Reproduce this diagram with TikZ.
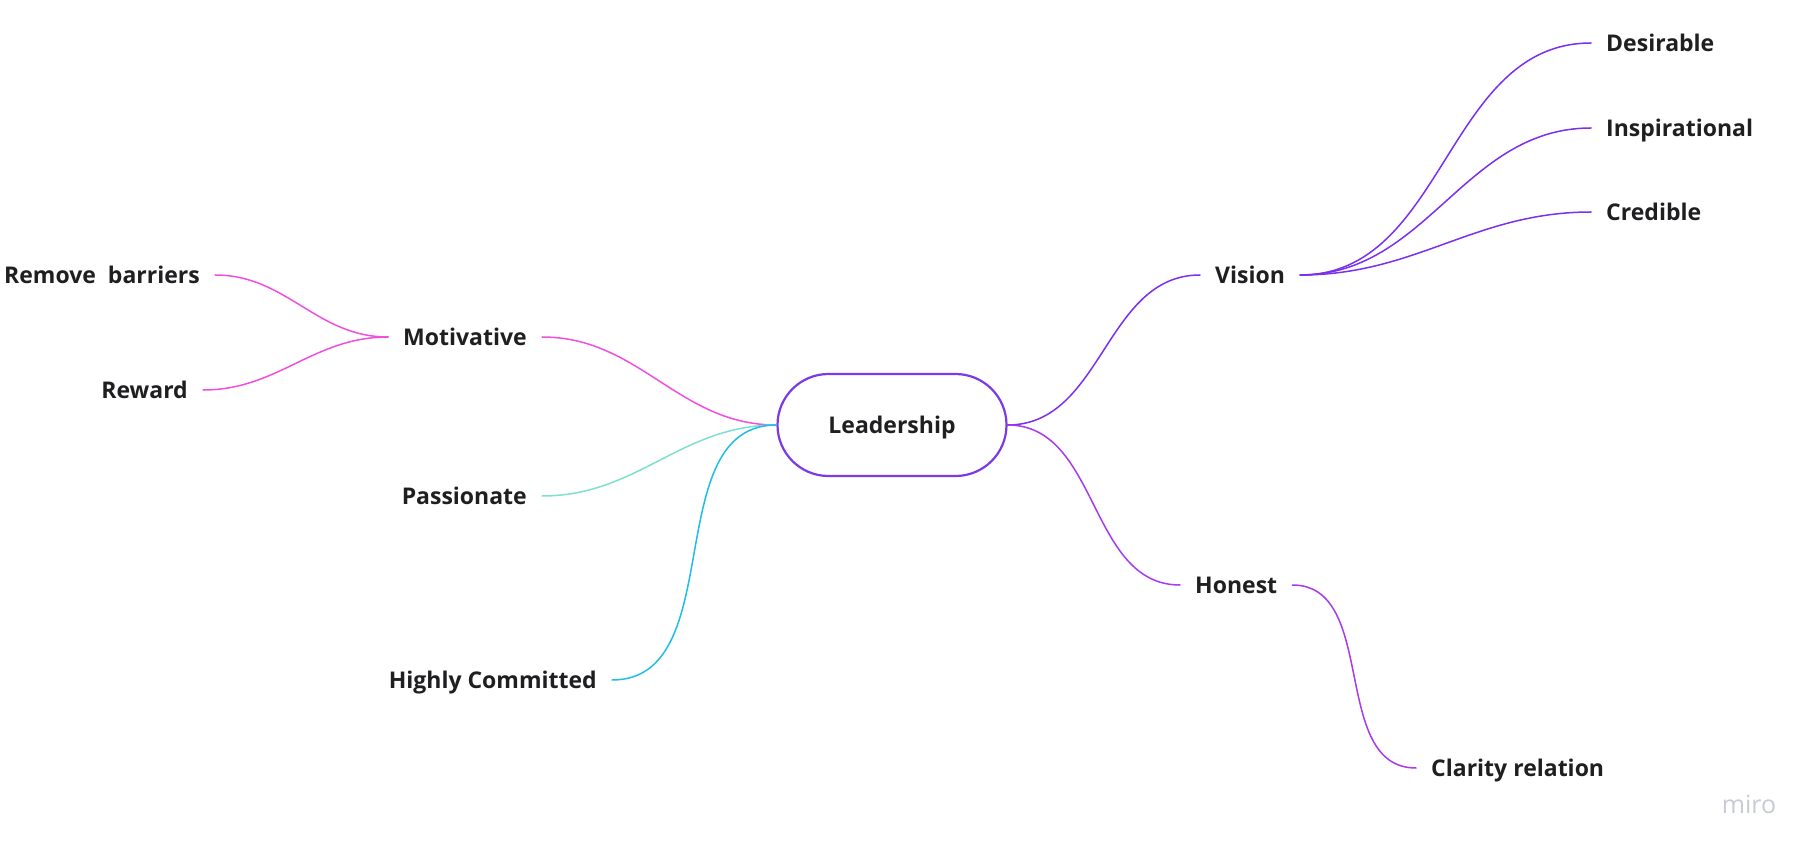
\documentclass[tikz,border=0pt]{standalone}
\usepackage{fontspec}
\setmainfont{Open Sans}
\definecolor{inkdark}{RGB}{31,31,33}
\definecolor{mpink}{RGB}{240,80,222}
\definecolor{mteal}{RGB}{126,224,207}
\definecolor{mcyan}{RGB}{30,190,232}
\definecolor{mviolet}{RGB}{122,48,238}
\definecolor{mpurple}{RGB}{168,58,240}
\definecolor{mborder}{RGB}{123,58,228}
\definecolor{mlogo}{RGB}{200,202,214}
\tikzset{
    leaf/.style={inner xsep=15pt, inner ysep=2pt, text height=16.5pt, text depth=0pt,
                 font=\fontsize{23}{27}\selectfont\bfseries, text=inkdark},
    link/.style={line width=1.5pt, line cap=round},
}
\begin{document}
\begin{tikzpicture}[x=1pt, y=-1pt]
    \useasboundingbox[fill=white] (0,0) rectangle (1820,858);

    % centre
    \node[draw=mborder, line width=2.2pt, rounded corners=51pt, minimum width=229pt, minimum height=102pt,
          text height=16.5pt, text depth=0pt,
          font=\fontsize{23}{27}\selectfont\bfseries, text=inkdark] (lead) at (892,425) {Leadership};

    % left side
    \node[leaf, anchor=east] (motiv) at (542,337) {Motivative};
    \node[leaf, anchor=east] (remove) at (215,275) {Remove\ \ barriers};
    \node[leaf, anchor=east] (reward) at (203,390) {Reward};
    \node[leaf, anchor=east] (passion) at (542,496) {Passionate};
    \node[leaf, anchor=east] (commit) at (612,680) {Highly Committed};

    \draw[link, mpink] (lead.west) to[out=180, in=0] (motiv.east);
    \draw[link, mpink] (motiv.west) to[out=180, in=0] (remove.east);
    \draw[link, mpink] (motiv.west) to[out=180, in=0] (reward.east);
    \draw[link, mteal] (lead.west) to[out=180, in=0] (passion.east);
    \draw[link, mcyan] (lead.west) to[out=180, in=0] (commit.east);

    % right side
    \node[leaf, anchor=west] (vision) at (1200,275) {Vision};
    \node[leaf, anchor=west] (desir) at (1591,43) {Desirable};
    \node[leaf, anchor=west] (inspir) at (1591,128) {Inspirational};
    \node[leaf, anchor=west] (cred) at (1591,212) {Credible};
    \node[leaf, anchor=west] (honest) at (1180,585) {Honest};
    \node[leaf, anchor=west] (clarity) at (1416,768) {Clarity relation};

    \draw[link, mviolet] (lead.east) to[out=0, in=180] (vision.west);
    \draw[link, mviolet] (vision.east) to[out=0, in=180] (desir.west);
    \draw[link, mviolet] (vision.east) to[out=0, in=180] (inspir.west);
    \draw[link, mviolet] (vision.east) to[out=0, in=180] (cred.west);
    \draw[link, mpurple] (lead.east) to[out=0, in=180] (honest.west);
    \draw[link, mpurple] (honest.east) to[out=0, in=180] (clarity.west);

    % watermark
    \node[font=\fontsize{25}{28}\selectfont, text=mlogo] (logo) at (1749,804) {miro};
\end{tikzpicture}
\end{document}
